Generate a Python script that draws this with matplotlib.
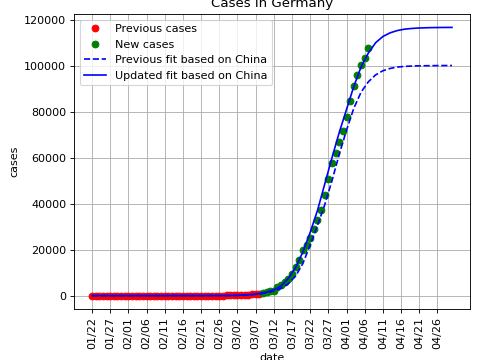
import matplotlib
matplotlib.use("Agg")
import matplotlib.pyplot as plt

# Previous cases (01/22 .. 03/08), day index from 01/22
prev_days = list(range(0, 47))
prev_cases = [0, 0, 0, 0, 0, 1, 4, 4, 4, 5, 8, 10, 12, 12, 12, 12, 13, 13, 14, 14,
              16, 16, 16, 16, 16, 16, 16, 16, 16, 16, 16, 16, 16, 16, 16, 17, 27, 46,
              48, 79, 130, 159, 196, 262, 482, 670, 799]

# New cases (03/09 .. 04/07)
new_days = list(range(47, 77))
new_cases = [1176, 1457, 1908, 2078, 3675, 4585, 5795, 7272, 9257, 12327,
             15320, 19848, 22213, 24873, 29056, 32986, 37323, 43938, 50871, 57695,
             62095, 66885, 71808, 77872, 84794, 91159, 96092, 100123, 103374, 107663]

# Fit curves
fit_days = [0, 10, 20, 30, 35, 38, 40, 42, 44, 46, 48, 50, 52, 54, 56, 58, 60, 62, 64,
            66, 68, 70, 72, 74, 76, 78, 80, 82, 84, 86, 88, 90, 93, 96, 99]
prev_fit = [0, 0, 1, 5, 15, 40, 80, 150, 350, 700, 1200, 2000, 3200, 5200, 8500,
            14000, 22000, 30500, 39500, 50000, 61500, 72000, 81500, 88500, 93000,
            96000, 97800, 98800, 99400, 99700, 99850, 99950, 100000, 100050, 100080]
new_fit = [0, 0, 2, 8, 20, 60, 130, 260, 500, 900, 1500, 2500, 4200, 7500, 12300,
           19000, 27500, 37000, 48500, 60000, 71000, 81000, 91000, 99500, 105500,
           110000, 112700, 114300, 115300, 115900, 116200, 116400, 116550, 116620, 116650]

tick_days = list(range(0, 100, 5))
tick_labels = ["01/22", "01/27", "02/01", "02/06", "02/11", "02/16", "02/21", "02/26",
               "03/02", "03/07", "03/12", "03/17", "03/22", "03/27", "04/01", "04/06",
               "04/11", "04/16", "04/21", "04/26"]

fig = plt.figure(figsize=(6.0, 4.5), dpi=80)
ax = fig.add_axes([74/480, 51/360, 396/480, 295/360])

ax.plot(prev_days, prev_cases, 'ro', label='Previous cases')
ax.plot(new_days, new_cases, 'go', label='New cases')
ax.plot(fit_days, prev_fit, 'b--', label='Previous fit based on China')
ax.plot(fit_days, new_fit, 'b-', label='Updated fit based on China')

ax.set_xticks(tick_days)
ax.set_xticklabels(tick_labels, rotation=90)
ax.set_xlabel('date')
ax.set_ylabel('cases')
ax.set_title('Cases in Germany')
ax.grid(True)
ax.legend(loc='upper left')

fig.savefig('out.png', dpi=80)
